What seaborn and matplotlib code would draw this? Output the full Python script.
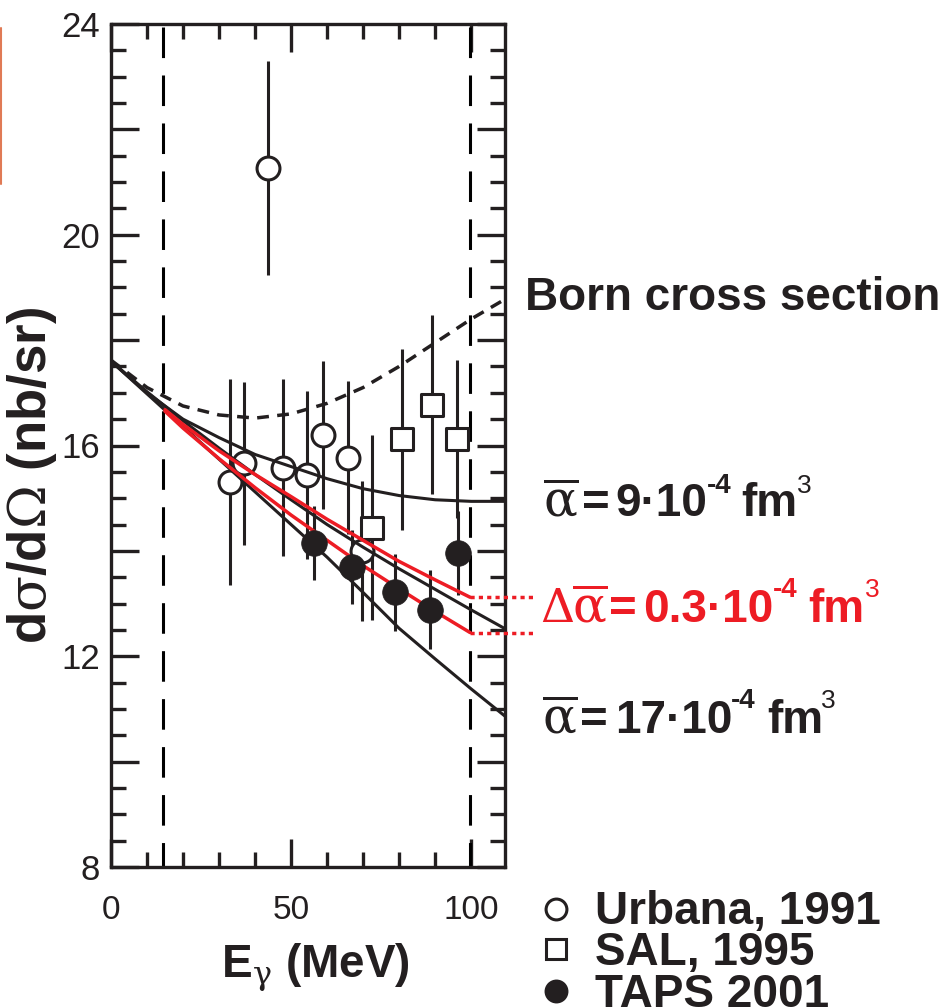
import numpy as np
import pandas as pd
import seaborn as sns
import matplotlib.pyplot as plt
from matplotlib.lines import Line2D
from matplotlib.ticker import MultipleLocator, FuncFormatter

# --- data ---
# Urbana, 1991 (open circles)
urbana_e = [33.1, 36.8, 43.5, 47.7, 54.5, 58.8, 65.7, 69.6]
urbana_xs = [15.31, 15.66, 21.27, 15.58, 15.44, 16.20, 15.77, 13.99]
urbana_err = [1.96, 1.55, 2.03, 1.68, 1.60, 1.40, 1.45, 1.33]

# SAL, 1995 (open squares)
sal_e = [72.4, 80.9, 89.1, 96.0]
sal_xs = [14.44, 16.12, 16.77, 16.12]
sal_err = [1.75, 1.72, 1.70, 1.50]

# TAPS 2001 (filled circles)
taps_e = [56.5, 67.0, 78.9, 88.6, 96.3]
taps_xs = [14.15, 13.70, 13.21, 12.88, 13.96]
taps_err = [0.70, 0.70, 0.73, 0.75, 0.80]

# calculated curves
curve_e = [0, 10, 20, 30, 40, 50, 60, 70, 80, 90, 100, 110]
born = [17.62, 17.10, 16.75, 16.58, 16.52, 16.60, 16.80, 17.10, 17.50, 17.95, 18.40, 18.80]
alpha9 = [17.60, 17.00, 16.50, 16.15, 15.83, 15.60, 15.37, 15.18, 15.05, 14.97, 14.94, 14.94]
alpha13 = [17.60, 17.02, 16.47, 15.95, 15.45, 14.97, 14.50, 14.07, 13.66, 13.27, 12.88, 12.50]
alpha17 = [17.60, 16.98, 16.36, 15.74, 15.12, 14.50, 13.88, 13.21, 12.53, 11.95, 11.38, 10.83]

# error band of the fit (red)
band_e = [15, 20, 30, 40, 50, 60, 70, 80, 90, 99.7]
band_hi = [16.68, 16.40, 15.90, 15.45, 15.03, 14.60, 14.20, 13.80, 13.45, 13.12]
band_lo = [16.65, 16.33, 15.75, 15.20, 14.68, 14.20, 13.72, 13.28, 12.85, 12.45]
band_end_e = [99.7, 117.8]

# energy window (dashed verticals)
window_e = [14.5, 99.6]

dark = '#231F20'
red = '#ED1C24'

sns.set_style('ticks')
plt.rcParams['font.family'] = ['Liberation Sans', 'DejaVu Sans']
plt.rcParams['mathtext.fontset'] = 'custom'
plt.rcParams['mathtext.rm'] = 'DejaVu Serif'
plt.rcParams['mathtext.it'] = 'DejaVu Serif:italic'
plt.rcParams['mathtext.bf'] = 'Liberation Sans:bold'
plt.rcParams['mathtext.sf'] = 'Liberation Sans'

W, H = 953, 1008
fig = plt.figure(figsize=(W / 100, H / 100), dpi=100)
ax = fig.add_axes([111 / W, 1 - 867 / H, 394 / W, 843 / H])


def fx(x):
    return x / W


def fy(y):
    return 1 - y / H


for xv in window_e:
    ax.axvline(xv, color='black', lw=2.2, linestyle=(2, (10, 5.7)), zorder=1)

# error bars
ax.errorbar(urbana_e, urbana_xs, yerr=urbana_err, fmt='none', ecolor=dark, elinewidth=2.2, capsize=0, zorder=2)
ax.errorbar(sal_e, sal_xs, yerr=sal_err, fmt='none', ecolor=dark, elinewidth=2.2, capsize=0, zorder=2)
ax.errorbar(taps_e, taps_xs, yerr=taps_err, fmt='none', ecolor=dark, elinewidth=2.2, capsize=0, zorder=2)

# open markers (white filled, curves go over them)
sns.scatterplot(x=urbana_e, y=urbana_xs, marker='o', s=272, color='white', edgecolor=dark,
                linewidth=2.2, zorder=3, legend=False, ax=ax)
sns.scatterplot(x=sal_e, y=sal_xs, marker='s', s=250, color='white', edgecolor=dark,
                linewidth=2.2, zorder=3, legend=False, ax=ax)

# curves
sns.lineplot(x=curve_e, y=born, color=dark, lw=2.5, linestyle=(0, (3.4, 2.4)), sort=False,
             estimator=None, zorder=4, ax=ax)
sns.lineplot(x=curve_e, y=alpha9, color=dark, lw=2.2, sort=False, estimator=None, zorder=4, ax=ax)
sns.lineplot(x=curve_e, y=alpha13, color=dark, lw=2.2, sort=False, estimator=None, zorder=4, ax=ax)
sns.lineplot(x=curve_e, y=alpha17, color=dark, lw=2.2, sort=False, estimator=None, zorder=4, ax=ax)
sns.lineplot(x=band_e, y=band_hi, color=red, lw=2.5, sort=False, estimator=None, zorder=4, ax=ax)
sns.lineplot(x=band_e, y=band_lo, color=red, lw=2.5, sort=False, estimator=None, zorder=4, ax=ax)
for yv in [band_hi[-1], band_lo[-1]]:
    ax.plot(band_end_e, [yv, yv], color=red, lw=2.5, linestyle=(0, (1.2, 1.2)), clip_on=False, zorder=4)

# filled markers on top
sns.scatterplot(x=taps_e, y=taps_xs, marker='o', s=342, color=dark, edgecolor=dark,
                linewidth=0.5, zorder=5, legend=False, ax=ax)

ax.set_xlim(0, 109.4)
ax.set_ylim(8, 24)
ax.xaxis.set_major_locator(MultipleLocator(50))
ax.xaxis.set_minor_locator(MultipleLocator(10))
ax.yaxis.set_major_locator(MultipleLocator(2))
ax.yaxis.set_minor_locator(MultipleLocator(0.5))
ax.yaxis.set_major_formatter(FuncFormatter(lambda v, p: f'{v:.0f}' if v % 4 == 0 else ''))
ax.tick_params(which='both', direction='in', top=True, right=True, width=2.4, color=dark)
ax.tick_params(which='major', length=20)
ax.tick_params(which='minor', length=11)
ax.tick_params(axis='x', pad=20, labelsize=24, labelcolor=dark)
ax.tick_params(axis='y', pad=8, labelsize=25, labelcolor=dark)
for sp in ax.spines.values():
    sp.set_linewidth(2.4)
    sp.set_color(dark)
ax.set_xlabel('')
ax.set_ylabel('')

# axis titles
fig.text(fx(315), fy(978), r'E$_{\mathrm{\gamma}}$ (MeV)', ha='center', va='baseline',
         fontsize=33, fontweight='bold', color=dark)
fig.text(fx(32), fy(476), r'd$\mathrm{\sigma}$/d$\mathrm{\Omega}$ (nb/sr)', rotation=90,
         ha='center', va='center', fontsize=38, fontweight='bold', color=dark)

# curve labels
fig.text(fx(525), fy(310), 'Born cross section', fontsize=33, fontweight='bold', color=dark, va='baseline')

alpha_bar = r'$\overline{\mathrm{\alpha}}$'


def label_piece(x, yb, text, size, color, weight='bold'):
    fig.text(fx(x), fy(yb), text, fontsize=size, fontweight=weight, color=color, va='baseline')


# (x of alpha, x of '=', x of number, x of exponent, x of fm, x of cube, baseline, exp baseline)
label_rows = [
    ('9', dark, 543, 582, 615, 707, 741, 797, 516, 493),
    ('0.3', red, 572, 609, 643, 773, 808, 865, 622, 597),
    ('17', dark, 542, 580, 615, 731, 767, 821, 733, 708),
]
for num, col, xa, xe, xn, xx, xf, xc, yb, ys in label_rows:
    label_piece(xa, yb, alpha_bar, 36, col, 'normal')
    label_piece(xe, yb, '=', 34, col)
    label_piece(xn, yb, num + '·10', 33, col)
    label_piece(xx, ys, '-4', 20, col)
    label_piece(xf, yb, 'fm', 33, col)
    label_piece(xc, ys, '3', 19, col, 'normal')
label_piece(540, 622, r'$\mathrm{\Delta}$', 34, red, 'normal')

# legend
legend_rows = [('Urbana, 1991', 'o', 'white', 909, 924),
               ('SAL, 1995', 's', 'white', 949, 965),
               ('TAPS 2001', 'o', dark, 991, 1007)]
for label, mk, fc, ym, yb in legend_rows:
    fig.add_artist(Line2D([fx(556)], [fy(ym)], marker=mk, markersize=15, markerfacecolor=fc,
                          markeredgecolor=dark, markeredgewidth=2.2, linestyle='none'))
    fig.text(fx(595), fy(yb), label, fontsize=33, fontweight='bold', color=dark, va='baseline')

# orange strip at the left edge
fig.add_artist(Line2D([fx(1), fx(1)], [fy(28), fy(184)], color='#E07A55', lw=1.5))

fig.savefig('out.png', dpi=100)
